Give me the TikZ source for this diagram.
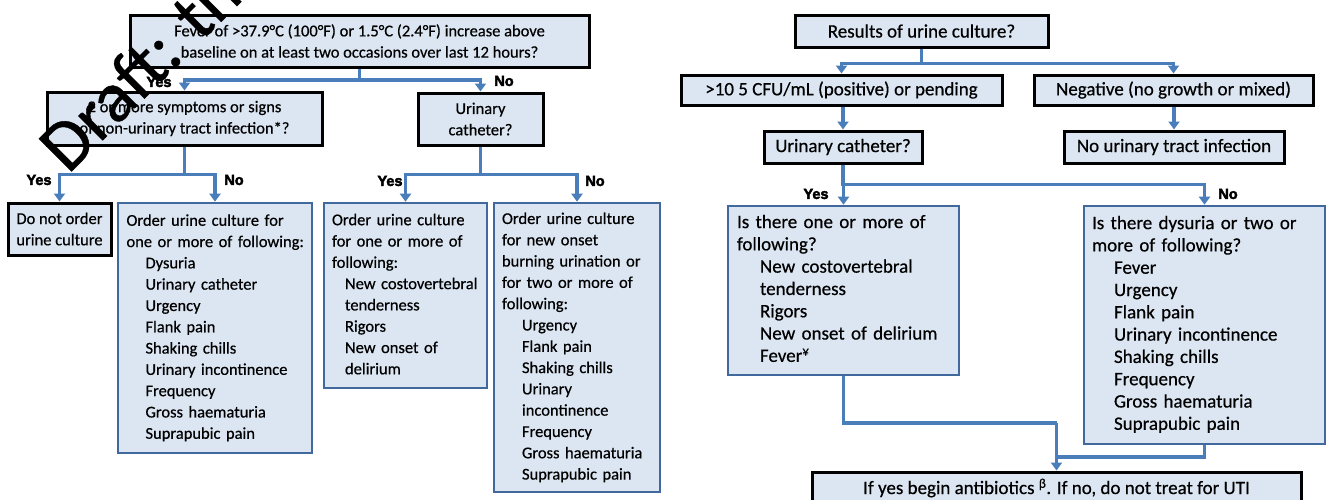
\documentclass[tikz,border=0pt]{standalone}
\usepackage{fontspec}
\setmainfont{Carlito}[FakeBold=0.5]
\newfontfamily\lblfont{Liberation Sans}[FakeBold=3]
\usetikzlibrary{arrows.meta}
\definecolor{boxfill}{HTML}{DCE6F2}
\definecolor{bordblue}{HTML}{41699D}
\definecolor{connblue}{HTML}{4A7EBB}
\newcommand\lst[1]{\noindent\begin{tabular}{@{}l@{}}#1\end{tabular}}
\newcommand\myind[1]{\hspace*{#1pt}}
\tikzset{
  dbox/.style={draw=black, line width=3pt, fill=boxfill, align=center, inner sep=0pt},
  lbox/.style={draw=bordblue, line width=2.6pt, fill=boxfill, align=left, inner ysep=0pt},
  lfont/.style={font=\fontsize{16.5}{21.3}\selectfont},
  rfont/.style={font=\fontsize{19}{22.3}\selectfont},
  conn/.style={draw=connblue, line width=3.5pt},
  arr/.style={conn, -{Triangle[width=11pt,length=8pt]}},
  yn/.style={font=\lblfont\bfseries\fontsize{14.5}{15}\selectfont, inner sep=0pt},
}
\begin{document}
\begin{tikzpicture}[x=1pt,y=-1pt]
\useasboundingbox (0,0) rectangle (1327,499);
\fill[white] (0,0) rectangle (1327,499);
\clip (0,0) rectangle (1327,499);

% ---------- left flowchart ----------
\node[dbox, lfont, minimum width=459pt, minimum height=52pt] (t1) at (359.5,41)
  {Fever of >37.9°C (100°F) or 1.5°C (2.4°F) increase above\\baseline on at least two occasions over last 12 hours?};
\node[dbox, lfont, minimum width=275pt, minimum height=53pt] (l2) at (184.5,118.5)
  {2 or more symptoms or signs\\of non-urinary tract infection*?};
\node[dbox, lfont, minimum width=125pt, minimum height=52pt] (r2) at (480.5,119)
  {Urinary\\catheter?};
\node[dbox, lfont, minimum width=103pt, minimum height=52pt] (dn) at (59.5,229)
  {Do not order\\urine culture};
\node[lbox, lfont, inner xsep=8.5pt, text width=177pt, minimum height=250pt] (o1) at (215,328)
  {\lst{Order urine culture for\\one or more of following:\\
   \myind{19}Dysuria\\\myind{19}Urinary catheter\\\myind{19}Urgency\\\myind{19}Flank pain\\
   \myind{19}Shaking chills\\\myind{19}Urinary incontinence\\\myind{19}Frequency\\
   \myind{19}Gross haematuria\\\myind{19}Suprapubic pain}};
\node[lbox, lfont, inner xsep=8pt, text width=147pt, minimum height=185pt] (o2) at (405.5,295.5)
  {\lst{Order urine culture\\for one or more of\\following:\\
   \myind{13}New costovertebral\\\myind{13}tenderness\\\myind{13}Rigors\\
   \myind{13}New onset of\\\myind{13}delirium}};
\node[lbox, lfont, inner xsep=8pt, text width=150pt, minimum height=289pt] (o3) at (577,347.5)
  {\lst{Order urine culture\\for new onset\\burning urination or\\for two or more of\\following:\\
   \myind{20}Urgency\\\myind{20}Flank pain\\\myind{20}Shaking chills\\\myind{20}Urinary\\
   \myind{20}incontinence\\\myind{20}Frequency\\\myind{20}Gross haematuria\\\myind{20}Suprapubic pain}};

\coordinate (j1) at (359.5,80);
\draw[arr] (t1.south) -- (j1) -| (l2.north);
\draw[arr] (j1) -| (r2.north);
\path (l2.south) ++(0,28) coordinate (j2);
\draw[arr] (l2.south) -- (j2) -| (dn.north);
\draw[arr] (j2) -| (o1.north);
\path (r2.south) ++(0,28) coordinate (j3);
\draw[arr] (r2.south) -- (j3) -| (o2.north);
\draw[arr] (j3) -| (o3.north);

\node[yn] (y1) at (159,82) {Yes};
\node[yn] (n1) at (504,81) {No};
\node[yn] (y2) at (39,180) {Yes};
\node[yn] (n2) at (234,180) {No};
\node[yn] (y3) at (390,181) {Yes};
\node[yn] (n3) at (595,181) {No};

% ---------- right flowchart ----------
\node[dbox, rfont, minimum width=253pt, minimum height=32pt] (res) at (921.5,31) {Results of urine culture?};
\node[dbox, rfont, minimum width=321pt, minimum height=30pt] (pos) at (841.5,90) {>10 5 CFU/mL (positive) or pending};
\node[dbox, rfont, minimum width=279pt, minimum height=30pt] (neg) at (1173.5,90) {Negative (no growth or mixed)};
\node[dbox, rfont, minimum width=158pt, minimum height=32pt] (uc) at (843,147) {Urinary catheter?};
\node[dbox, rfont, minimum width=220pt, minimum height=32pt] (nouti) at (1174,147) {No urinary tract infection};
\node[lbox, rfont, inner xsep=9pt, text width=213pt, minimum height=169pt] (yb) at (843.5,290.5)
  {\lst{Is there one or more of\\following?\\
   \myind{23}New costovertebral\\\myind{23}tenderness\\\myind{23}Rigors\\
   \myind{23}New onset of delirium\\\myind{23}Fever\textsuperscript{¥}}};
\node[lbox, rfont, inner xsep=8pt, text width=225pt, minimum height=238pt] (nb) at (1204.5,325)
  {\lst{Is there dysuria or two or\\more of following?\\
   \myind{22}Fever\\\myind{22}Urgency\\\myind{22}Flank pain\\\myind{22}Urinary incontinence\\
   \myind{22}Shaking chills\\\myind{22}Frequency\\\myind{22}Gross haematuria\\\myind{22}Suprapubic pain}};
\node[dbox, rfont, minimum width=489pt, minimum height=32pt] (fin) at (1056.5,488)
  {If yes begin antibiotics \textsuperscript{β}. If no, do not treat for UTI};

\path (res.south) ++(0,15) coordinate (j4);
\draw[arr] (res.south) -- (j4) -| (pos.north);
\draw[arr] (j4) -| (neg.north);
\draw[arr] (uc.north |- pos.south) -- (uc.north);
\draw[arr] (nouti.north |- neg.south) -- (nouti.north);
\path (uc.south) ++(0,20) coordinate (j5);
\draw[arr] (uc.south) -- (j5) -| (yb.north);
\draw[arr] (j5) -| (nb.north);
\coordinate (j6) at (1056.5,423);
\coordinate (j7) at (1056.5,457);
\draw[conn] (yb.south) |- (j6);
\draw[conn] (nb.south) |- (j7);
\draw[arr] (j6) -- (fin.north);

\node[yn] (y4) at (816,194) {Yes};
\node[yn] (n4) at (1228,194) {No};

% ---------- watermark ----------
\node[rotate=45, anchor=base west, inner sep=0pt, font=\fontsize{72}{72}\selectfont] (wm) at (68,175) {Draft: th};
\end{tikzpicture}
\end{document}
